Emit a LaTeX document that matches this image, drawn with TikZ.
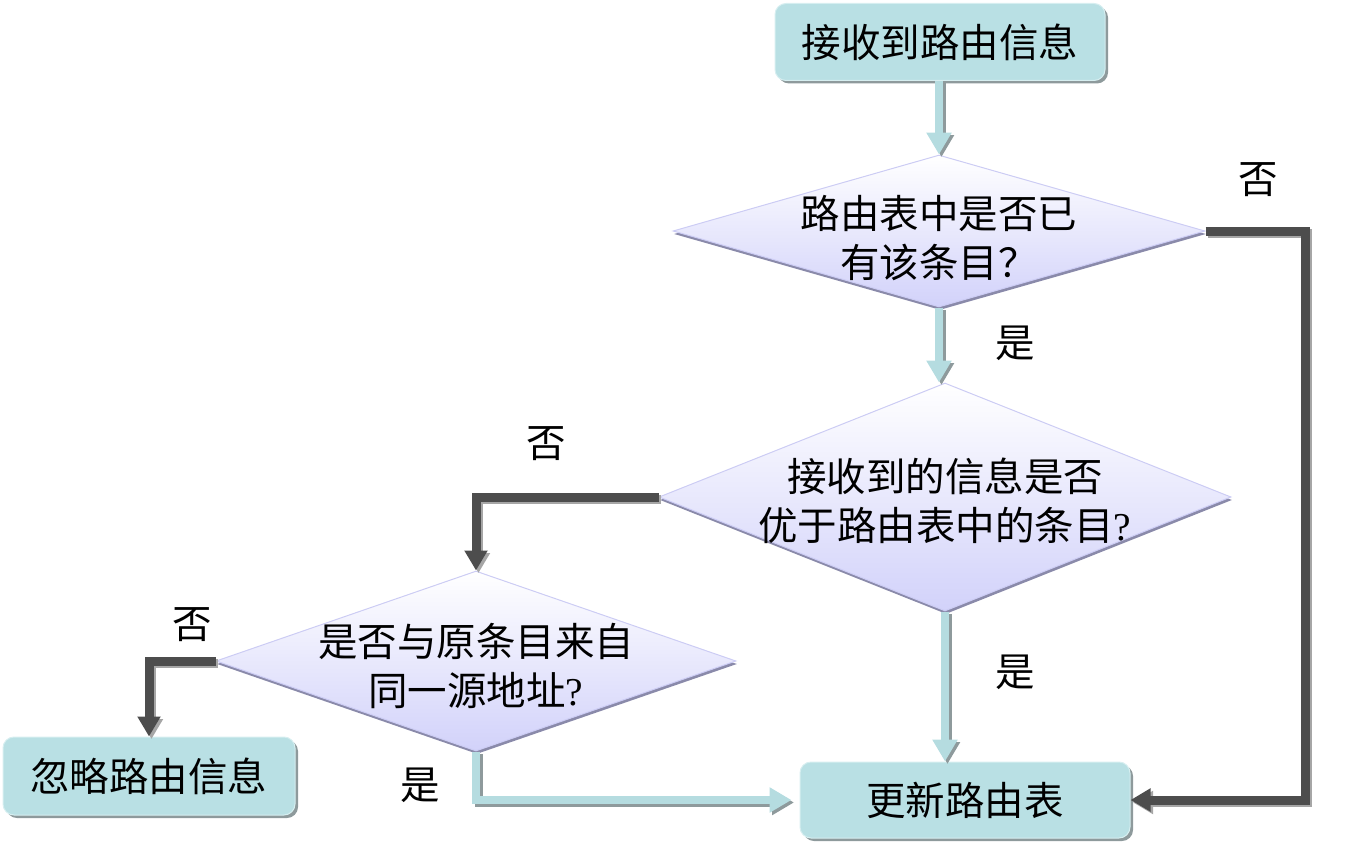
\documentclass[tikz,border=0pt]{standalone}
\usepackage{fontspec}
\setmainfont{Noto Sans CJK SC}
\newfontfamily\latinserif{Liberation Serif}
\usetikzlibrary{shapes.geometric,arrows.meta,shadows}
\definecolor{boxfill}{HTML}{B9E0E4}
\definecolor{boxline}{HTML}{D6EEF0}
\definecolor{boxshadow}{HTML}{8E9A9C}
\definecolor{diafill}{HTML}{D2D2FA}
\definecolor{dialine}{HTML}{CCCCF4}
\definecolor{diashadow}{HTML}{8A8AAA}
\definecolor{darkline}{HTML}{4D4D4D}
\definecolor{lightline}{HTML}{B5DCE0}
\begin{document}
\begin{tikzpicture}[x=1pt,y=-1pt,
  bigtext/.style={font=\fontsize{39.5pt}{49pt}\selectfont},
  procbox/.style={bigtext, rectangle, rounded corners=11pt, fill=boxfill, draw=boxline, line width=1pt,
    drop shadow={shadow xshift=3pt, shadow yshift=-3pt, fill=boxshadow, opacity=1}},
  decision/.style={diamond, inner sep=0pt, top color=white, bottom color=diafill, draw=dialine, line width=1pt,
    drop shadow={shadow xshift=1pt, shadow yshift=-3pt, fill=diashadow, opacity=1}},
  dtext/.style={bigtext, align=center, inner sep=0pt},
  lbl/.style={bigtext, inner sep=0pt},
  yesarrow/.style={draw=lightline, line width=8pt, -{Triangle[width=24pt,length=22pt]},
    preaction={draw=boxshadow, line width=8pt, -{Triangle[width=24pt,length=22pt]}, transform canvas={shift={(2.5pt,-2.5pt)}}}},
  noarrow/.style={draw=darkline, line width=9pt, -{Triangle[width=22pt,length=20pt]},
    preaction={draw=gray!70, line width=9pt, -{Triangle[width=22pt,length=20pt]}, transform canvas={shift={(2.5pt,-2.5pt)}}}},
]
\useasboundingbox (0,0) rectangle (1371,851);

% nodes
\node[procbox, minimum width=330pt, minimum height=77pt] (start) at (940,42) {接收到路由信息};
\node[decision, minimum width=532pt, minimum height=152pt] (d1) at (939,231) {};
\node[dtext] (d1t) at (939,238) {路由表中是否已\\有该条目？};
\node[decision, minimum width=572pt, minimum height=228pt] (d2) at (945,497) {};
\node[dtext] (d2t) at (945,501) {接收到的信息是否\\优于路由表中的条目{\latinserif ?}};
\node[decision, minimum width=520pt, minimum height=180pt] (d3) at (476,661) {};
\node[dtext] (d3t) at (476,666) {是否与原条目来自\\同一源地址{\latinserif ?}};
\node[procbox, minimum width=292pt, minimum height=78pt] (ignore) at (149,776) {忽略路由信息};
\node[procbox, minimum width=330pt, minimum height=76pt] (update) at (965,800) {更新路由表};

% labels
\node[lbl] (l1) at (1258,180) {否};
\node[lbl] (l2) at (1015,343) {是};
\node[lbl] (l3) at (546,444) {否};
\node[lbl] (l4) at (192,625) {否};
\node[lbl] (l5) at (1015,672) {是};
\node[lbl] (l6) at (420,785) {是};

% corner coordinates
\coordinate (c1) at (1305,231);
\coordinate (c2) at (1305,800);

% connectors
\draw[yesarrow] (d1.north |- start.south) -- (d1.north);
\draw[yesarrow] (d1.south) -- (d1.south |- d2.north);
\draw[yesarrow] (d2.south) -- (d2.south |- update.north);
\draw[yesarrow, shorten >=8pt] (d3.south) |- (update.west);
\draw[noarrow] (d1.east) -- (c1) -- (c2) -- (update.east);
\draw[noarrow] (d2.west) -| (d3.north);
\draw[noarrow] (d3.west) -| (ignore.north);
\end{tikzpicture}
\end{document}
